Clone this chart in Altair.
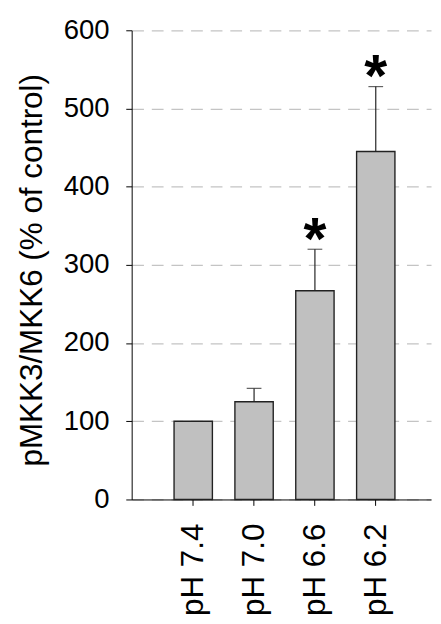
import altair as alt
import pandas as pd

categories = ["pH 7.4", "pH 7.0", "pH 6.6", "pH 6.2"]
means = [100, 125, 267, 445]
errors = [0, 17, 53, 83]
stars = ["", "", "*", "*"]

df = pd.DataFrame({
    "cat": categories,
    "mean": means,
    "top": [m + e for m, e in zip(means, errors)],
    "err": errors,
    "star": stars,
})

FONT = "Liberation Sans"

x = alt.X(
    "cat:N",
    sort=categories,
    scale=alt.Scale(paddingInner=0.37, paddingOuter=0.645, align=0.54),
    axis=alt.Axis(
        title=None,
        labelAngle=-90,
        labelFontSize=32,
        labelFont=FONT,
        labelColor="black",
        labelPadding=18,
        tickSize=6,
        tickColor="black",
        domainColor="black",
        grid=False,
    ),
)

y_scale = alt.Scale(domain=[0, 600], nice=False)

bars = alt.Chart(df).mark_bar(
    fill="#c0c0c0", stroke="#222222", strokeWidth=1.4
).encode(
    x=x,
    y=alt.Y(
        "mean:Q",
        scale=y_scale,
        axis=alt.Axis(
            title="pMKK3/MKK6 (% of control)",
            titleFont=FONT,
            titleFontSize=32,
            titleFontWeight="normal",
            titleColor="black",
            titleX=-92,
            titleY=244,
            titleBaseline="alphabetic",
            values=[0, 100, 200, 300, 400, 500, 600],
            labelFont=FONT,
            labelFontSize=28,
            labelColor="black",
            labelPadding=17,
            tickSize=6,
            tickColor="black",
            domainColor="black",
            grid=True,
            gridColor="#c4c4c4",
            gridDash=[12, 8],
            gridWidth=1.2,
        ),
    ),
)

err_df = alt.Chart(df).transform_filter("datum.err > 0")

err_lines = err_df.mark_rule(color="#222222", strokeWidth=1.2).encode(
    x=alt.X("cat:N", sort=categories),
    y=alt.Y("mean:Q", scale=y_scale),
    y2="top:Q",
)

caps = err_df.mark_tick(color="#222222", thickness=1.2, size=15).encode(
    x=alt.X("cat:N", sort=categories),
    y=alt.Y("top:Q", scale=y_scale),
)

star_text = err_df.mark_text(
    font=FONT, fontSize=60, fontWeight="bold", color="black",
    baseline="alphabetic", dy=10,
).encode(
    x=alt.X("cat:N", sort=categories),
    y=alt.Y("top:Q", scale=y_scale),
    text="star:N",
)

chart = alt.layer(bars, err_lines, caps, star_text).properties(
    width=305,
    height=478,
    autosize=alt.AutoSizeParams(type="none"),
    padding={"left": 126, "top": 17, "right": 2, "bottom": 113},
).configure_view(stroke=None)

chart.save("out.html", embed_options={"renderer": "svg", "actions": False})
